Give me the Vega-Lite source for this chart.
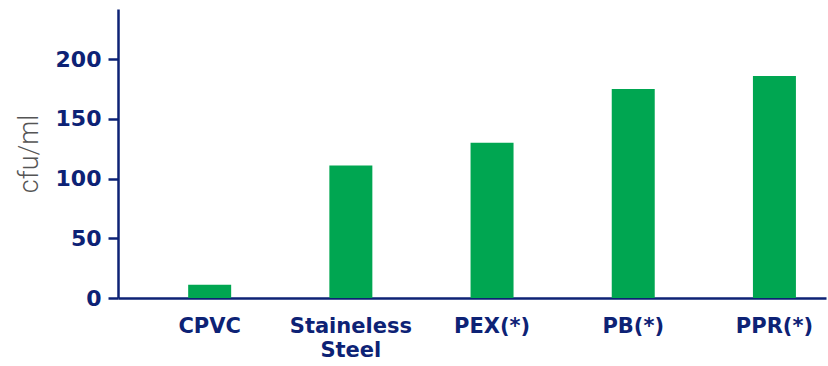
{
  "$schema": "https://vega.github.io/schema/vega-lite/v6.json",
  "autosize": {"type": "none"},
  "padding": {"left": 118, "top": 9, "right": 2, "bottom": 68},
  "width": 708,
  "height": 289,
  "background": "white",
  "config": {"view": {"stroke": null}},
  "data": {"values": [
    {"material": "CPVC", "cfu": 11},
    {"material": "Staineless Steel", "cfu": 111},
    {"material": "PEX(*)", "cfu": 130},
    {"material": "PB(*)", "cfu": 175},
    {"material": "PPR(*)", "cfu": 186}
  ]},
  "mark": {"type": "bar", "color": "#00a651"},
  "encoding": {
    "x": {
      "field": "material", "type": "nominal", "sort": null,
      "scale": {"paddingInner": 0.6955, "paddingOuter": 0.355, "align": 0.7},
      "axis": {
        "title": null, "labelAngle": 0, "ticks": false,
        "domainColor": "#0d2275", "domainWidth": 2.5,
        "labelFont": "DejaVu Sans", "labelFontWeight": "bold", "labelFontSize": 21,
        "labelColor": "#0d2275", "labelPadding": 17, "labelLineHeight": 24,
        "labelExpr": "split(datum.label, ' ')"
      }
    },
    "y": {
      "field": "cfu", "type": "quantitative",
      "scale": {"domain": [0, 242], "nice": false},
      "axis": {
        "title": "cfu/ml", "values": [0, 50, 100, 150, 200], "grid": false,
        "domainColor": "#0d2275", "domainWidth": 2.5,
        "tickColor": "#0d2275", "tickWidth": 2.5, "tickSize": 10,
        "labelFont": "DejaVu Sans", "labelFontWeight": "bold", "labelFontSize": 22,
        "labelColor": "#0d2275", "labelPadding": 7,
        "titleFont": "Roboto", "titleFontWeight": 300, "titleFontSize": 27,
        "titleColor": "#555555", "titlePadding": 12
      }
    }
  }
}
